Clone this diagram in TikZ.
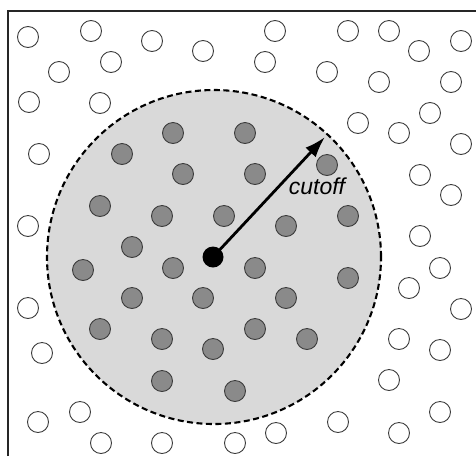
\documentclass[tikz,border=0pt]{standalone}
\usepackage{fontspec}
\setmainfont{Liberation Sans}
\usetikzlibrary{arrows.meta}
\definecolor{zonegray}{HTML}{D9D9D9}
\definecolor{atomgray}{HTML}{8A8A8A}
\definecolor{rimgray}{HTML}{3C3C3C}
\begin{document}
\begin{tikzpicture}[x=1pt,y=-1pt,
  hollow/.style={circle,draw=rimgray,line width=0.9pt,fill=white,minimum size=21pt,inner sep=0pt},
  inside/.style={circle,draw=rimgray,line width=0.9pt,fill=atomgray,minimum size=21pt,inner sep=0pt},
  centre/.style={circle,fill=black,minimum size=21pt,inner sep=0pt},
  zone/.style={circle,draw=black,fill=zonegray,line width=2.1pt,dash pattern=on 6pt off 3.5pt,minimum size=334pt,inner sep=0pt},
  frameline/.style={line width=2pt,draw=black!85},
  radius arrow/.style={line width=2.8pt,-{Latex[length=21pt,width=14pt]}},
  label/.style={font=\itshape\fontsize{23}{23}\selectfont,inner sep=0pt}]
\useasboundingbox (0,0) rectangle (476,456);
\fill[white] (0,0) rectangle (476,456);
\coordinate (fbl) at (8,456);
\coordinate (ftl) at (8,11);
\coordinate (ftr) at (476,11);
\draw[frameline] (fbl) -- (ftl) -- (ftr);
\node[zone] (cut) at (214,257) {};
% hollow atoms outside cutoff
\foreach \x/\y [count=\i] in {28/37,91/31,152/41,203/51,59/72,111/62,29/102,100/103,39/154,28/226,
  275/31,348/31,389/31,461/41,419/51,265/62,327/72,379/82,451/82,430/113,358/123,399/133,461/144,
  420/175,451/195,420/236,440/268,409/288,461/309,399/339,440/350,389/380,440/412,338/422,276/433,
  399/433,235/443,28/308,42/353,38/422,80/412,101/443,162/443}
  \node[hollow] (h\i) at (\x,\y) {};
% gray atoms inside cutoff
\foreach \x/\y [count=\i] in {173/133,245/133,122/154,183/174,255/174,327/165,100/206,162/216,224/216,
  348/216,286/226,132/247,83/270,173/268,255/268,348/278,132/298,203/298,286/298,100/329,162/339,
  255/329,213/349,307/339,162/381,235/391}
  \node[inside] (g\i) at (\x,\y) {};
\node[centre] (c) at (213,257) {};
\coordinate (tip) at (325,137);
\draw[radius arrow] (c.center) -- (tip);
\node[label] (lab) at (317,186) {cutoff};
\end{tikzpicture}
\end{document}
